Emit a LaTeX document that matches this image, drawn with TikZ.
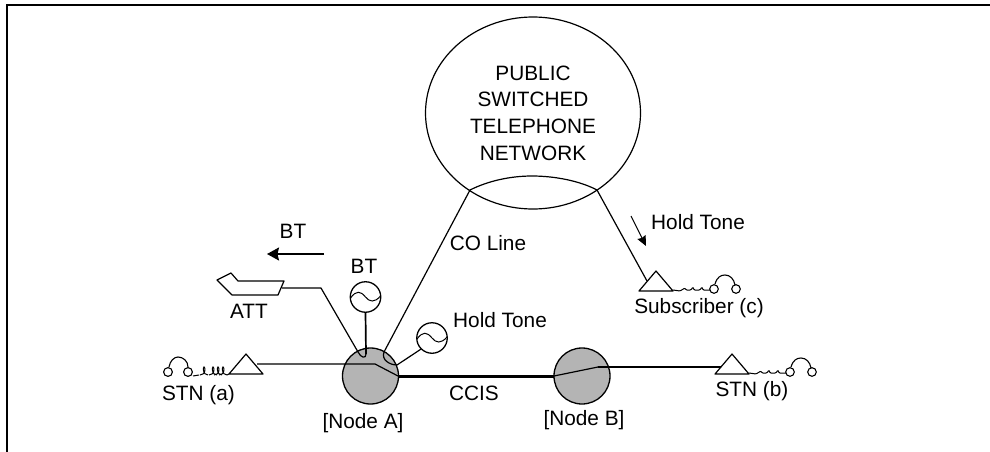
\documentclass[tikz,border=0pt]{standalone}
\usepackage{fontspec}
\setmainfont{Liberation Sans}
\usetikzlibrary{shapes.geometric,arrows.meta}
\definecolor{hubgray}{HTML}{B4B4B4}
\tikzset{
  wire/.style={line width=1.2pt,line join=round},
  midwire/.style={line width=1.7pt,line join=round},
  trunk/.style={line width=3pt},
  lbl/.style={inner sep=0pt,font=\fontsize{20.8}{26.7}\selectfont,align=center},
  hub/.style={circle,draw,line width=1.3pt,fill=hubgray,minimum size=56pt,inner sep=0pt},
  tone/.style={circle,draw,line width=1.3pt,fill=white,minimum size=30.5pt,inner sep=0pt},
  pointer/.style={line width=1.5pt,-{Stealth[length=12pt,width=13pt,inset=1.5pt]}},
  phone/.pic={
    \draw[wire] (0,0) -- (-17,-20) -- (-34,0) -- cycle;
    \draw[line width=1pt,rounded corners=1pt] (0,-1) -- (7,0) -- (12,-3) -- (13,-1) -- (18,-1) -- (20,-4) -- (21,-1) -- (27,-1) -- (29,-4) -- (30,-1) -- (37,-1);
    \draw[line width=1.1pt] (41,-2) circle[radius=4.3] (63,-2) circle[radius=4.3];
    \draw[line width=1.1pt] (42,-7) .. controls (44,-14) and (48,-16) .. (52,-16) .. controls (57,-16) and (61,-12) .. (62,-6);
  }
}
\newcommand{\wave}[1]{\draw[line width=1pt,shift={(#1.center)}] (-15,1) .. controls (-9,-7) and (-5,-6) .. (0,0) .. controls (4,5) and (9,6) .. (15,-1);}
\begin{document}
\begin{tikzpicture}[x=1pt,y=-1pt]
\useasboundingbox (0,0) rectangle (990,452);
\fill[white] (0,0) rectangle (990,452);
% frame
\coordinate (frameBL) at (7,452);
\coordinate (frameTL) at (7,5);
\coordinate (frameTR) at (990,5);
\draw[line width=2pt] (frameBL) -- (frameTL) -- (frameTR);

% cloud
\node[ellipse,draw,line width=1.2pt,minimum width=215pt,minimum height=192pt,inner sep=0pt,lbl] (pstn) at (533,113) {PUBLIC\\SWITCHED\\TELEPHONE\\NETWORK};

% hubs
\node[hub] (nodeA) at (370.5,376) {};
\node[hub] (nodeB) at (582,376) {};

% tones
\node[tone] (toneBT) at (365.5,297) {};
\node[tone] (toneHold) at (432,338) {};
\wave{toneBT}
\wave{toneHold}

% phones
\coordinate (triC) at (673,291);
\coordinate (triB) at (749,374);
\pic at (triC) {phone};
\pic at (triB) {phone};
\coordinate (triAl) at (229,374);
\coordinate (triAr) at (263,374);
\coordinate (triAt) at (246,354);
\draw[wire] (triAl) -- (triAt) -- (triAr) -- cycle;
\draw[line width=1pt] (193,376) -- (199,375);
\foreach \xx in {204,213,218,223}{
  \draw[line width=1pt] (\xx-4,375) .. controls (\xx+2,375) and (\xx+1.5,367) .. (\xx,367) .. controls (\xx-1.5,367) and (\xx-1,375) .. (\xx+4,375);
}
\draw[line width=1pt] (227,375) -- (triAl);
\draw[line width=1.1pt] (168,372) circle[radius=4.4] (188,372) circle[radius=4.4];
\draw[line width=1.1pt] (169,367) .. controls (170,361) and (174,357) .. (178,357) .. controls (183,357) and (188,361) .. (188,367);

% attendant
\coordinate (att1) at (217,280);
\coordinate (att2) at (231,273);
\coordinate (att3) at (238,281);
\coordinate (att4) at (284,281);
\coordinate (att5) at (278,295);
\coordinate (att6) at (232,295);
\draw[wire] (att1) -- (att2) -- (att3) -- (att4) -- (att5) -- (att6) -- cycle;

% connectors
\coordinate (attOut) at (282,288);
\coordinate (attBend) at (321,288);
\coordinate (attEnd) at (358,352);
\coordinate (btEnd) at (366,354);
\draw[wire] (attOut) -- (attBend) -- (attEnd) .. controls (361,358) and (366,359) .. (btEnd);
\draw[midwire] (toneBT.south) -- (btEnd);

\coordinate (coA) at (384,352);
\coordinate (coB) at (397,365);
\coordinate (arcL) at (470,190);
\coordinate (arcT) at (532,176);
\coordinate (arcR) at (597,190);
\coordinate (triCside) at (647,281);
\draw[wire] (coB) .. controls (390,365) and (381,360) .. (coA) -- (arcL)
  .. controls (488,181) and (510,176) .. (arcT) .. controls (555,176) and (580,181) .. (arcR) -- (triCside);
\draw[wire] (coB) -- (toneHold.225);

\coordinate (aIn) at (257,364);
\coordinate (aBend) at (375,364);
\coordinate (aOut) at (398,376);
\draw[wire] (aIn) -- (aBend) -- (aOut);
\coordinate (bIn) at (554,376);
\coordinate (bBend) at (598,367);
\coordinate (bOut) at (721,367);
\draw[trunk] (aOut) -- (bIn);
\draw[wire] (bIn) -- (bBend);
\draw[midwire] (bBend) -- (bOut);

% pointers
\coordinate (btS) at (324,254);
\coordinate (btE) at (267,254);
\draw[pointer] (btS) -- (btE);
\coordinate (hS) at (631,216);
\coordinate (hE) at (646,246);
\draw[line width=1.1pt,-{Stealth[length=10pt,width=9pt,inset=1pt]}] (hS) -- (hE);

% labels
\node[lbl] (lBT1) at (293,231) {BT};
\node[lbl] (lBT2) at (364,266) {BT};
\node[lbl] (lATT) at (249,311) {ATT};
\node[lbl] (lSTNa) at (198.5,395) {STN (a)};
\node[lbl] (lNodeA) at (363,423) {[Node A]};
\node[lbl] (lCCIS) at (474,393) {CCIS};
\node[lbl] (lNodeB) at (584,420) {[Node B]};
\node[lbl] (lSTNb) at (752,391) {STN (b)};
\node[lbl] (lSubC) at (699,308) {Subscriber (c)};
\node[lbl] (lHoldC) at (698,222) {Hold Tone};
\node[lbl] (lHoldA) at (500,320) {Hold Tone};
\node[lbl] (lCO) at (488,243) {CO Line};
\end{tikzpicture}
\end{document}
